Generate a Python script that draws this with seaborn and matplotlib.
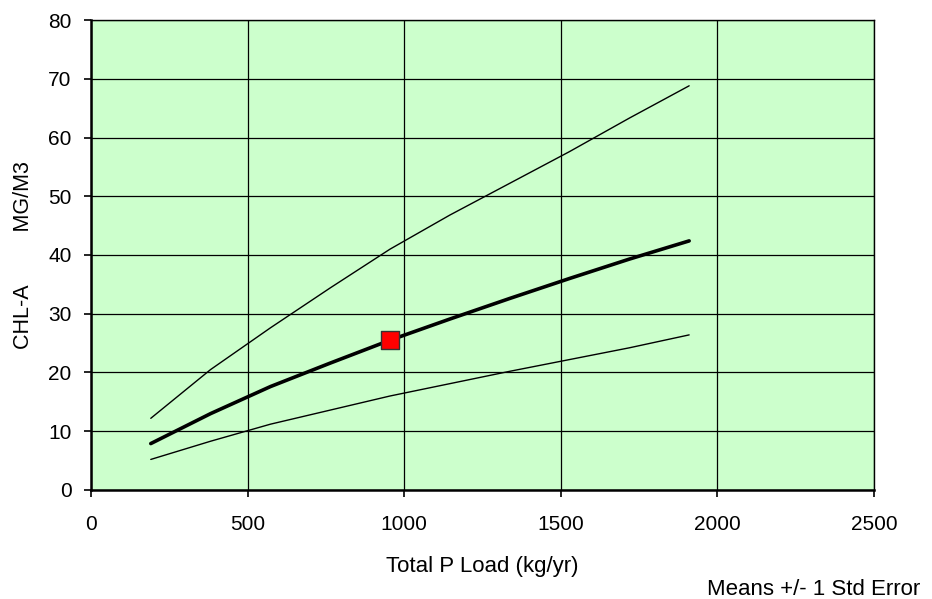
"""
Total P load vs CHL-A response curve (means +/- 1 std error)
"""

import numpy as np
import pandas as pd
import matplotlib
matplotlib.use("Agg")
import matplotlib.pyplot as plt
import seaborn as sns

# load scenarios (kg/yr)
p_load = [191, 382, 573, 764, 955, 1146, 1337, 1528, 1719, 1910]
chl_mean = [7.9, 13.0, 17.6, 21.6, 25.5, 29.1, 32.6, 36.0, 39.3, 42.4]
chl_upper = [12.2, 20.5, 27.6, 34.4, 41.0, 46.8, 52.2, 57.6, 63.3, 68.8]
chl_lower = [5.2, 8.3, 11.2, 13.6, 16.0, 18.1, 20.2, 22.2, 24.2, 26.4]

# current condition
current_load = [955]
current_chl = [25.5]

x_ticks = [0, 500, 1000, 1500, 2000, 2500]
y_ticks = [0, 10, 20, 30, 40, 50, 60, 70, 80]

sns.set_style("white")
plt.rcParams["font.family"] = ["Liberation Sans", "DejaVu Sans"]
plt.rcParams["text.color"] = "black"
plt.rcParams["axes.labelcolor"] = "black"

df = pd.DataFrame({
    "load": p_load * 3,
    "chl": chl_mean + chl_upper + chl_lower,
    "series": ["mean"] * 10 + ["upper"] * 10 + ["lower"] * 10,
})

fig = plt.figure(figsize=(9.32, 5.99), dpi=100)
ax = fig.add_axes([0.0976, 0.182, 0.8401, 0.7846])
ax.set_facecolor("#CCFFCC")

sns.lineplot(
    data=df, x="load", y="chl", hue="series", size="series",
    sizes={"mean": 2.6, "upper": 1.0, "lower": 1.0},
    palette={"mean": "black", "upper": "black", "lower": "black"},
    legend=False, ax=ax, zorder=3,
)
sns.scatterplot(
    x=current_load, y=current_chl, marker="s", s=150,
    color="#FF0000", edgecolor="#333333", linewidth=1.0,
    ax=ax, zorder=4,
)

ax.set_xlim(0, 2500)
ax.set_ylim(0, 80)
ax.set_xticks(x_ticks)
ax.set_yticks(y_ticks)
ax.grid(True, color="black", linewidth=0.9)
ax.set_axisbelow(True)
for s in ax.spines.values():
    s.set_color("black")
    s.set_linewidth(1.0)
ax.spines["left"].set_linewidth(1.8)
ax.spines["bottom"].set_linewidth(1.8)
ax.tick_params(axis="both", direction="out", length=5, width=1.2,
               colors="black", labelsize=15)
ax.tick_params(axis="x", pad=13)
ax.tick_params(axis="y", pad=9)
ax.tick_params(left=True, bottom=True)

ax.set_xlabel("Total P Load (kg/yr)", fontsize=16, labelpad=16)
ax.set_ylabel("CHL-A         MG/M3", fontsize=15.5, labelpad=10)
fig.text(0.987, -0.002, "Means +/- 1 Std Error", ha="right", va="bottom",
         fontsize=16)

fig.savefig("out.png", dpi=100)
